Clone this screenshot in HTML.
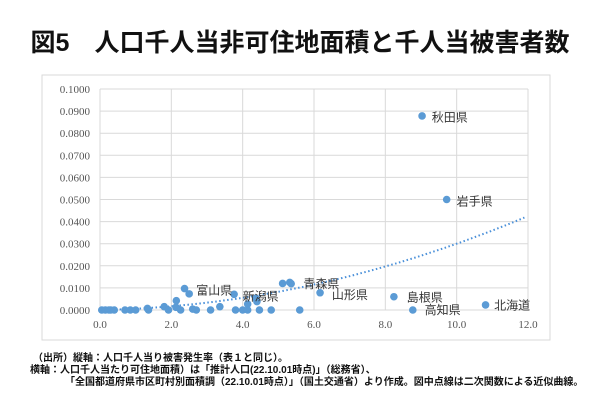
<!DOCTYPE html>
<html><head><meta charset="utf-8"><style>
body{margin:0;background:#fff;width:600px;height:400px;overflow:hidden}
svg{display:block;font-family:"Liberation Sans","Noto Sans CJK JP",sans-serif}
</style></head><body>
<svg id="c" width="600" height="400">
<text x="300" y="51" text-anchor="middle" font-size="25" font-weight="bold" fill="#111">図5　人口千人当非可住地面積と千人当被害者数</text>
<rect x="42" y="75" width="508" height="265" fill="#fff" stroke="#d9d9d9"/>
<g id="grid"></g><g id="trend"></g><g id="pts"></g><g id="lbl"></g>
<g font-size="10" font-weight="bold" fill="#111">
<text x="33" y="361">（出所）縦軸：人口千人当り被害発生率（表１と同じ）。</text>
<text x="30" y="373">横軸：人口千人当たり可住地面積）は「推計人口(22.10.01時点)」（総務省）、</text>
<text x="65" y="385">「全国都道府県市区町村別面積調（22.10.01時点）」（国土交通省）より作成。図中点線は二次関数による近似曲線。</text>
</g>
</svg>
<script>
const xTicks=[0,2,4,6,8,10,12];
const yTicks=[0,0.01,0.02,0.03,0.04,0.05,0.06,0.07,0.08,0.09,0.1];
const xs=[0.05,0.15,0.25,0.3,0.4,0.7,0.85,1.0,1.33,1.36,1.8,1.92,2.14,2.13,2.26,2.37,2.5,2.6,2.7,3.1,3.36,3.76,3.8,4.0,4.14,4.14,4.37,4.4,4.47,4.8,5.12,5.32,5.36,5.6,6.17,9.03,9.72,8.24,8.77,10.81];
const ys=[0,0,0,0,0,0,0,0,0.0007,0,0.0015,0,0.0042,0.0012,0,0.0097,0.0073,0.0004,0,0,0.0015,0.0071,0,0,0,0.0027,0.0053,0.0038,0,0,0.012,0.0125,0.0119,0,0.0078,0.0878,0.05,0.006,0,0.0023];
const labels=["富山県","新潟県","青森県","山形県","島根県","高知県","北海道","秋田県","岩手県"];
const labelX=[2.7,4.0,5.7,6.5,8.6,9.1,11.05,9.3,10.0];
const labelY=[0.0088,0.0062,0.0118,0.0068,0.0056,0.0,0.0021,0.087,0.0492];
const trendCoef=[0.00027,0.00030,0];
const X=v=>100+v*(428/12), Y=v=>310-v*2210;
const ns="http://www.w3.org/2000/svg";
function mk(p,t,a){const e=document.createElementNS(ns,t);for(const k in a)e.setAttribute(k,a[k]);document.getElementById(p).appendChild(e);return e;}
xTicks.forEach(t=>{const l=mk('grid','line',{x1:X(t),x2:X(t),y1:Y(0.1),y2:Y(0),stroke:'#d9d9d9'});


const s=mk('grid','text',{x:X(t),y:328,'text-anchor':'middle','font-size':11,fill:'#555','font-family':'Liberation Serif, serif'});s.textContent=t.toFixed(1);

});
yTicks.forEach(t=>{const l=mk('grid','line',{x1:X(0),x2:X(12),y1:Y(t),y2:Y(t),stroke:'#d9d9d9'});


const s=mk('grid','text',{x:90,y:Y(t)+4,'text-anchor':'end','font-size':11,fill:'#555','font-family':'Liberation Serif, serif'});s.textContent=t.toFixed(4);

});
let d='';for(let i=0;i<=60;i++){const x=0.1+i*(11.8/60);const y=trendCoef[0]*x*x+trendCoef[1]*x+trendCoef[2];d+=(i?'L':'M')+X(x).toFixed(1)+','+Y(y).toFixed(1);}
const tp=mk('trend','path',{d:d,fill:'none',stroke:'#4a90d9','stroke-width':2,'stroke-dasharray':'1.5 2.5'});


xs.forEach((x,i)=>{const c=mk('pts','circle',{cx:X(x),cy:Y(ys[i]),r:3.8,fill:'#5b9bd5'});

});
labels.forEach((n,i)=>{const t=mk('lbl','text',{x:X(labelX[i]),y:Y(labelY[i])+4,'font-size':12,fill:'#333'});t.textContent=n;

});
</script>
</body></html>
